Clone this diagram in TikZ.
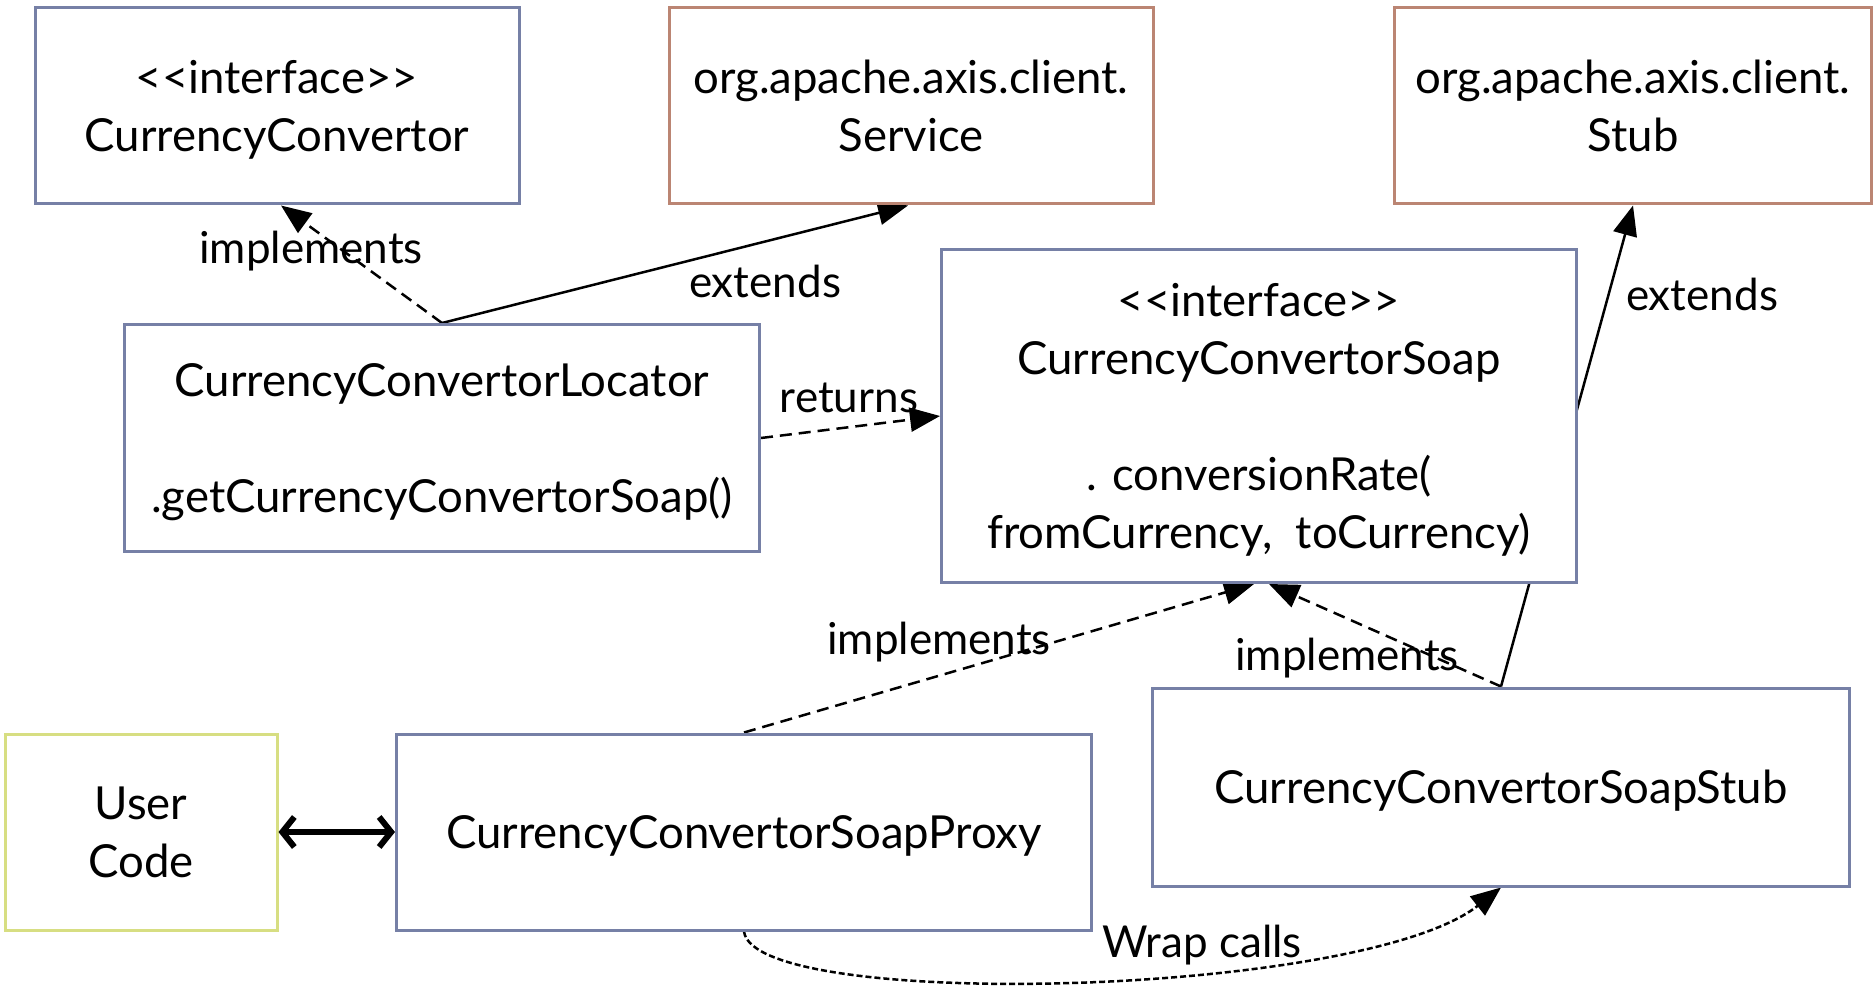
\documentclass[tikz,border=0pt]{standalone}
\usepackage{fontspec}
\setmainfont{Lato}
\usetikzlibrary{calc}
\usetikzlibrary{arrows.meta}
\usetikzlibrary{backgrounds}
\definecolor{clsblue}{RGB}{118,128,166}
\definecolor{axisbrown}{RGB}{187,133,115}
\definecolor{userlime}{RGB}{215,222,130}

\begin{document}
\begin{tikzpicture}[x=1pt, y=-1pt,
	cls/.style = {draw=clsblue, line width=3pt, fill=white, align=center, inner sep=0pt, text depth=0pt, font=\fontsize{45.5}{58}\selectfont},
	axiscls/.style = {cls, draw=axisbrown},
	usercls/.style = {cls, draw=userlime},
	lab/.style = {font=\fontsize{44}{52}\selectfont, inner sep=0pt},
	impl/.style = {line width=2.5pt, dash pattern=on 12pt off 7pt, -{Triangle[length=30pt,width=24pt]}},
	extd/.style = {line width=2.5pt, -{Triangle[length=30pt,width=24pt]}},
	wrapcall/.style = {line width=2.5pt, dash pattern=on 6pt off 3pt, -{Triangle[length=30pt,width=24pt]}},
	both/.style = {line width=6pt, {Straight Barb[length=12pt,width=30pt]}-{Straight Barb[length=12pt,width=30pt]}}
]
\useasboundingbox (0,0) rectangle (1874,987);

% Top row: interface and the two axis base classes
\node[cls, minimum width=484pt, minimum height=196pt] (conv) at (277,106) {<\kern0pt<interface>\kern0pt>\\ CurrencyConvertor};
\node[axiscls, minimum width=484pt, minimum height=196pt] (service) at (911,106) {org.apache.axis.client.\\ Service};
\node[axiscls, minimum width=477pt, minimum height=196pt] (stub) at (1633,106) {org.apache.axis.client.\\ Stub};

% Middle row
\node[cls, minimum width=635pt, minimum height=227pt] (locator) at (442,438) {CurrencyConvertorLocator\\ \strut\\ .getCurrencyConvertorSoap()};
\node[cls, minimum width=635pt, minimum height=333pt] (soap) at (1259,416) {<\kern0pt<interface>\kern0pt>\\ CurrencyConvertorSoap\\ \strut\\ . conversionRate(\\ fromCurrency,\ \ toCurrency)};

% Bottom row
\node[usercls, minimum width=272pt, minimum height=196pt] (user) at (141,832) {User\\ Code};
\node[cls, minimum width=695pt, minimum height=196pt] (proxy) at (744,832) {CurrencyConvertorSoapProxy};
\node[cls, minimum width=697pt, minimum height=198pt] (soapstub) at (1501,787) {CurrencyConvertorSoapStub};

% Connectors go behind the boxes
\begin{scope}[on background layer]
\draw[impl] (locator.north) -- ($(conv.south)+(4,0)$);
\draw[extd] (locator.north) -- ($(service.south)+(-3,0)$);
\draw[impl] (locator.east) -- (soap.west);
\draw[extd] (soapstub.north) -- (stub.south);
\draw[impl] (proxy.north) -- ($(soap.south)+(-5,0)$);
\draw[impl] (soapstub.north) -- ($(soap.south)+(10,0)$);
\draw[wrapcall] (proxy.south) .. controls +(10,80) and +(-140,110) .. (soapstub.south);
\end{scope}
\draw[both] (user.east) -- (proxy.west);

% Labels on the connectors
\node[lab] (implA) at (311,251) {implements};
\node[lab] (extA) at (765,281) {extends};
\node[lab] (ret) at (849,398) {returns};
\node[lab] (extB) at (1702,294) {extends};
\node[lab] (implB) at (939,642) {implements};
\node[lab] (implC) at (1347,658) {implements};
\node[lab] (wrap) at (1202,945) {Wrap calls};

\end{tikzpicture}
\end{document}
